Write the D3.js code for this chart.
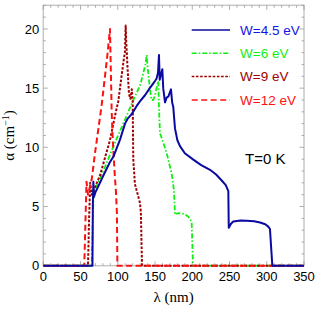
<!DOCTYPE html>
<html>
<head>
<meta charset="utf-8">
<script src="https://cdn.jsdelivr.net/npm/d3@7"></script>
<style>
  body { margin: 0; background: #fff; }
  svg { display: block; }
</style>
</head>
<body>
<svg id="chart"></svg>
<script>
// wavelength (nm) and absorption (cm^-1) for each W
const lamW45 = [0, 66, 66.5, 67.2, 68, 70, 80.5, 89, 94, 103, 109.7, 113, 118.6, 125.4, 130, 136.5, 143, 149.9, 152, 154, 155.3, 156.3, 157.5, 159.8, 161, 163.4, 165.6, 168, 171.4, 173, 174.5, 176.8, 180, 183.5, 190, 201.4, 212, 223.8, 232, 239.5, 245, 248.4, 249, 252, 255, 265, 273, 283, 291, 298, 302, 304.3, 307.5, 350];
const alphaW45 = [0, 0, 5, 7.1, 5.8, 6.2, 7.6, 8.7, 9.2, 10.65, 12.0, 12.4, 12.8, 13.5, 13.9, 14.4, 15.0, 15.6, 15.8, 16.3, 17.8, 15.7, 16.0, 16.6, 15.0, 13.8, 14.2, 14.3, 14.9, 13.8, 13.4, 11.6, 10.6, 10.1, 9.5, 8.96, 8.5, 8.1, 7.7, 7.2, 6.8, 6.3, 3.2, 3.55, 3.73, 3.82, 3.8, 3.75, 3.65, 3.5, 3.3, 3.1, 0, 0];

const lamW6 = [0, 65, 66.5, 67.5, 70, 80, 96.2, 109.7, 123, 129.8, 134, 137, 138.8, 140, 143.2, 145.5, 147.6, 150, 152, 154.4, 155.5, 156.6, 160, 165.6, 172.3, 175.4, 176.8, 178, 183.5, 190, 194.6, 197, 199.2, 201, 350];
const alphaW6 = [0, 0, 4, 6.0, 6.5, 7.9, 10.4, 12.35, 14.3, 15.2, 16.2, 17, 17.8, 16.8, 14.9, 14.0, 14.0, 14.4, 15, 15.6, 13, 11.2, 10.6, 9.5, 7.8, 6.4, 4.3, 4.4, 4.44, 4.35, 4.15, 3.95, 3.6, 0, 0];

const lamW9 = [0, 60, 61.5, 63, 65, 67, 76, 89.5, 96, 100.7, 105, 108, 109.5, 110.6, 111.3, 112.8, 115, 117, 118.8, 120, 120.8, 123, 126, 129.8, 131, 132.5, 350];
const alphaW9 = [0, 0, 4, 7.0, 6.0, 6.3, 7.6, 10.6, 12.6, 13.9, 16.0, 17.4, 18, 20.3, 19, 17.1, 14.5, 14.1, 14.9, 13.9, 9.0, 6.9, 6.2, 5.3, 4.5, 0, 0];

const lamW12 = [0, 55, 56.5, 58, 60, 62.7, 65, 69.4, 78.4, 85, 88, 89.5, 90.5, 91.8, 93, 94, 96, 97.5, 98.8, 99.5, 350];
const alphaW12 = [0, 0, 3.5, 7.1, 6.0, 6.7, 7.3, 9.5, 13.6, 17.2, 19, 20, 17, 13, 11, 9.8, 7.6, 6.3, 4.5, 0, 0];

const seriesNames = ["W=4.5 eV", "W=6 eV", "W=9 eV", "W=12 eV"];
const xTicks = [0, 50, 100, 150, 200, 250, 300, 350];
const yTicks = [0, 5, 10, 15, 20];

const width = 316, height = 316;
const margin = { left: 43.3, right: 12, top: 5.3, bottom: 50.3 };

const series = [
  { name: seriesNames[0], lam: lamW45, alpha: alphaW45, color: "#0a0aa0", text: "#1414e6", dash: null, w: 2 },
  { name: seriesNames[1], lam: lamW6, alpha: alphaW6, color: "#11ee11", text: "#11ee11", dash: "5,2,1.5,2", w: 1.8 },
  { name: seriesNames[2], lam: lamW9, alpha: alphaW9, color: "#a00000", text: "#a00000", dash: "2.6,1.6", w: 2 },
  { name: seriesNames[3], lam: lamW12, alpha: alphaW12, color: "#ff1010", text: "#ff1010", dash: "6,3.5", w: 2 }
];

const svg = d3.select("#chart")
    .attr("width", width)
    .attr("height", height);

const x = d3.scaleLinear().domain([0, 350]).range([margin.left, width - margin.right]);
const y = d3.scaleLinear().domain([0, 22]).range([height - margin.bottom, margin.top]);

const x0 = x.range()[0], x1 = x.range()[1];
const y0 = y.range()[0], y1 = y.range()[1];

// frame
svg.append("rect")
    .attr("x", x0).attr("y", y1)
    .attr("width", x1 - x0).attr("height", y0 - y1)
    .attr("fill", "none")
    .attr("stroke", "#c8c8c8")
    .attr("stroke-width", 1.5);

// ticks on all four sides, pointing in
const tickG = svg.append("g").attr("stroke", "#999").attr("stroke-width", 0.8);
d3.range(0, 351, 10).forEach(v => {
  const len = v % 50 === 0 ? 4.5 : 2.5;
  tickG.append("line").attr("x1", x(v)).attr("x2", x(v)).attr("y1", y0).attr("y2", y0 - len);
  tickG.append("line").attr("x1", x(v)).attr("x2", x(v)).attr("y1", y1).attr("y2", y1 + len);
});
d3.range(0, 23, 1).forEach(v => {
  const len = v % 5 === 0 ? 4.5 : 2.5;
  tickG.append("line").attr("y1", y(v)).attr("y2", y(v)).attr("x1", x0).attr("x2", x0 + len);
  tickG.append("line").attr("y1", y(v)).attr("y2", y(v)).attr("x1", x1).attr("x2", x1 - len);
});

// tick labels
svg.append("g").selectAll("text")
    .data(xTicks).enter().append("text")
    .attr("x", d => x(d))
    .attr("y", y0 + 15)
    .attr("text-anchor", "middle")
    .style("font-family", "Liberation Sans, Arial, sans-serif")
    .style("font-size", "13px")
    .text(d => d);

svg.append("g").selectAll("text")
    .data(yTicks).enter().append("text")
    .attr("x", x0 - 4)
    .attr("y", d => y(d))
    .attr("dy", "0.35em")
    .attr("text-anchor", "end")
    .style("font-family", "Liberation Sans, Arial, sans-serif")
    .style("font-size", "13px")
    .text(d => d);

// curves
const line = d3.line().x(d => x(d[0])).y(d => y(d[1]));
svg.append("clipPath").attr("id", "clip")
    .append("rect").attr("x", x0).attr("y", y1).attr("width", x1 - x0).attr("height", y0 - y1 + 2);

const drawOrder = [1, 2, 3, 0];
svg.append("g").attr("clip-path", "url(#clip)")
    .selectAll("path")
    .data(drawOrder.map(i => series[i]))
    .enter().append("path")
    .attr("d", s => line(s.lam.map((l, i) => [l, s.alpha[i]])))
    .attr("fill", "none")
    .attr("stroke", s => s.color)
    .attr("stroke-width", s => s.w)
    .attr("stroke-dasharray", s => s.dash)
    .attr("stroke-linejoin", "round");

// legend
const legend = svg.append("g");
series.forEach((s, i) => {
  const ly = 30 + i * 23.3;
  legend.append("line")
      .attr("x1", 191.7).attr("x2", 230)
      .attr("y1", ly).attr("y2", ly)
      .attr("stroke", s.color)
      .attr("stroke-width", 1.5)
      .attr("stroke-dasharray", s.dash);
  legend.append("text")
      .attr("x", 240).attr("y", ly)
      .attr("dy", "0.36em")
      .style("font-family", "Liberation Sans, Arial, sans-serif")
      .style("font-size", "13.5px")
      .attr("fill", s.text)
      .text(s.name);
});

svg.append("text")
    .attr("x", 245).attr("y", 164)
    .style("font-family", "Liberation Sans, Arial, sans-serif")
    .style("font-size", "15px")
    .text("T=0 K");

// axis titles
svg.append("text")
    .attr("x", (x0 + x1) / 2).attr("y", 302)
    .attr("text-anchor", "middle")
    .style("font-family", "Liberation Serif, Times New Roman, serif")
    .style("font-size", "15px")
    .text("λ (nm)");

const yl = svg.append("text")
    .attr("transform", "translate(14," + ((y0 + y1) / 2) + ") rotate(-90)")
    .attr("text-anchor", "middle")
    .style("font-family", "Liberation Serif, Times New Roman, serif")
    .style("font-size", "15px");
yl.append("tspan").text("α (cm");
yl.append("tspan").attr("dy", -5).style("font-size", "10px").text("−1");
yl.append("tspan").attr("dy", 5).text(")");
</script>
</body>
</html>
